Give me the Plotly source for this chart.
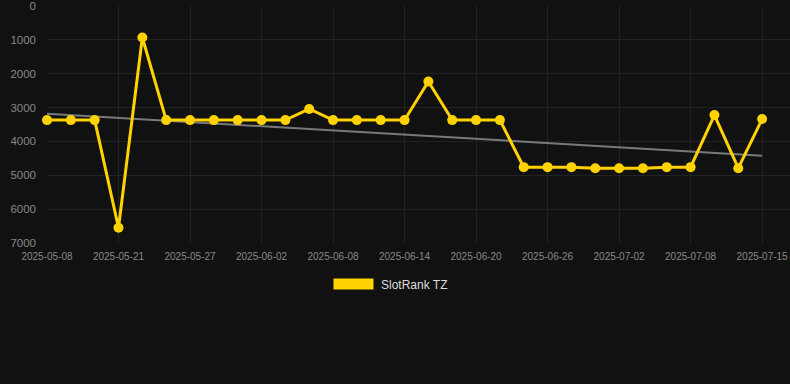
import plotly.graph_objects as go

dates = ["2025-05-08", "2025-05-13", "2025-05-17", "2025-05-21", "2025-05-23", "2025-05-25",
         "2025-05-27", "2025-05-29", "2025-05-31", "2025-06-02", "2025-06-04", "2025-06-06",
         "2025-06-08", "2025-06-10", "2025-06-12", "2025-06-14", "2025-06-16", "2025-06-18",
         "2025-06-20", "2025-06-22", "2025-06-24", "2025-06-26", "2025-06-28", "2025-06-30",
         "2025-07-02", "2025-07-04", "2025-07-06", "2025-07-08", "2025-07-10", "2025-07-12",
         "2025-07-15"]
rank = [3370, 3370, 3370, 6550, 930, 3370, 3370, 3370, 3370, 3370, 3370, 3040,
        3370, 3370, 3370, 3370, 2230, 3370, 3370, 3370, 4760, 4760, 4760, 4790,
        4790, 4790, 4760, 4760, 3220, 4790, 3340]
trend_x = [dates[0], dates[-1]]
trend_y = [3180, 4420]
tick_labels = dates[::3]
y_ticks = [0, 1000, 2000, 3000, 4000, 5000, 6000, 7000]
series_name = "SlotRank TZ"

GOLD = "#FFD200"
BG = "#111111"
GRID = "#222222"

fig = go.Figure()
fig.add_trace(go.Scatter(x=trend_x, y=trend_y, mode="lines",
                         line=dict(color="rgba(140,140,140,0.85)", width=2),
                         showlegend=False, hoverinfo="skip", cliponaxis=False))
fig.add_trace(go.Scatter(x=dates, y=rank, mode="lines+markers", name=series_name,
                         line=dict(color=GOLD, width=3),
                         marker=dict(color=GOLD, size=10),
                         showlegend=False, cliponaxis=False))

fig.update_layout(
    width=790, height=384,
    paper_bgcolor=BG, plot_bgcolor=BG,
    margin=dict(l=47, r=0, t=6, b=141),
    font=dict(family="Liberation Sans, Arial, sans-serif", color="#888888"),
    xaxis=dict(type="category", categoryorder="array", categoryarray=dates,
               range=[0, 31.17], tickmode="array",
               tickvals=tick_labels, ticktext=tick_labels,
               showgrid=True, gridcolor=GRID, gridwidth=1, zeroline=False,
               showline=False, ticks="", tickfont=dict(size=10, color="#888888"),
               ticklabelstandoff=6, tickangle=0),
    yaxis=dict(range=[7000, 0], tickmode="array", tickvals=y_ticks,
               showgrid=True, gridcolor=GRID, gridwidth=1, zeroline=False,
               showline=False, ticks="", tickfont=dict(size=11.5, color="#888888"),
               ticklabelstandoff=10),
    shapes=[dict(type="rect", xref="paper", yref="paper",
                 x0=(333.5 - 47) / 743, x1=(373.5 - 47) / 743,
                 y0=(384 - 141 - 289.5) / 237, y1=(384 - 141 - 278.5) / 237,
                 fillcolor=GOLD, line=dict(width=0))],
    annotations=[dict(text=series_name, xref="paper", yref="paper",
                      x=(378.5 - 47) / 743, y=(384 - 141 - 284.5) / 237,
                      xanchor="left", yanchor="middle", showarrow=False,
                      font=dict(size=12, color="#dddddd"))],
)

fig.write_html("out.html", config={"displayModeBar": False},
               post_script="document.body.style.margin='0';document.body.style.padding='0';"
                           "document.body.style.background='#111111';")
